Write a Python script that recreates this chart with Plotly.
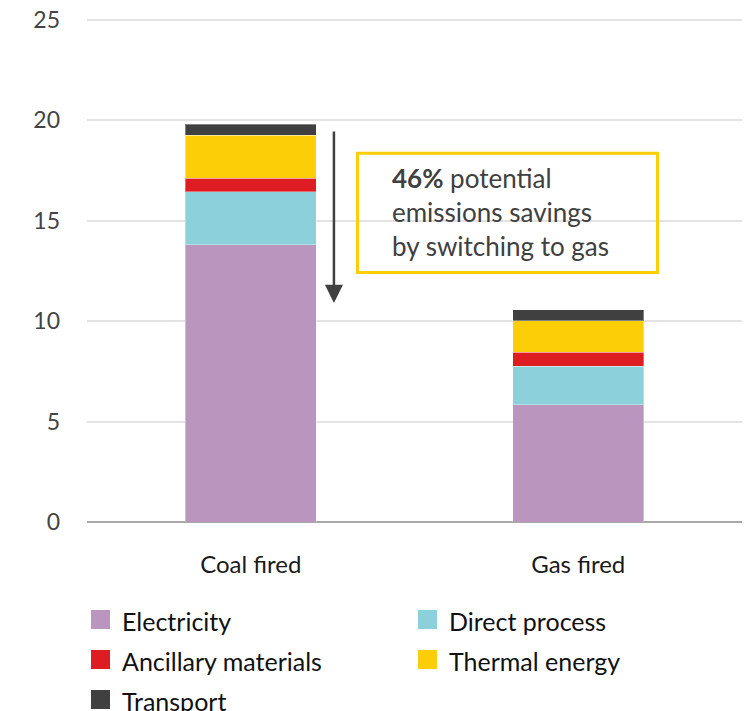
import plotly.graph_objects as go

# data
categories = ['Coal fired', 'Gas fired']
electricity = [13.81, 5.84]
direct_process = [2.64, 1.91]
ancillary = [0.68, 0.70]
thermal = [2.13, 1.57]
transport = [0.56, 0.54]

series = [
  ('Electricity', electricity, '#BA95BE'),
  ('Direct process', direct_process, '#8BD0DB'),
  ('Ancillary materials', ancillary, '#DD1D21'),
  ('Thermal energy', thermal, '#FBCE07'),
  ('Transport', transport, '#404040'),
]

FONT = 'Lato'
W, H = 746, 711
L, R, T, B = 87, 4, 18, 711 - 522

def px_x(p):
  # page pixel -> paper x
  return (p - L) / (W - L - R)

def px_y(p):
  return (H - B - p) / (H - T - B)

fig = go.Figure()
for name, vals, col in series:
  fig.add_trace(go.Bar(x=categories, y=vals, name=name, marker_color=col,
                       marker_line=dict(width=1, color='rgba(255,255,255,0.35)'),
                       width=0.4, showlegend=False))

fig.update_layout(
  barmode='stack', width=W, height=H,
  margin=dict(l=L, r=R, t=T, b=B),
  paper_bgcolor='white', plot_bgcolor='white',
  font=dict(family=FONT, size=24, color='#404040'),
)
# range top a bit above 25 so the 25 gridline isn't clipped off
fig.update_yaxes(range=[0, 25.1], tickvals=[0, 5, 10, 15, 20, 25], showgrid=True,
                 gridcolor='#E3E3E3', gridwidth=1.5,
                 zeroline=True, zerolinecolor='#A8A8A8', zerolinewidth=2,
                 showline=False, ticks='', ticklabelstandoff=26,
                 tickfont=dict(family=FONT, size=23, color='#444444'))
fig.update_xaxes(range=[-0.5, 1.5], showline=False, ticks='', ticklabelstandoff=26,
                 tickfont=dict(family=FONT, size=24, color='#1a1a1a'))

# arrow
fig.add_annotation(x=0.254, y=10.91, ax=0.254, ay=19.52, xref='x', yref='y', axref='x', ayref='y',
                   text='', showarrow=True, arrowhead=2, arrowsize=1.45, arrowwidth=2.5,
                   arrowcolor='#404040')

# savings box
fig.add_shape(type='rect', xref='x', yref='y', x0=0.326, x1=1.242, y0=12.43, y1=18.37,
              line=dict(color='#FBCE07', width=3), fillcolor='rgba(0,0,0,0)')
fig.add_annotation(x=0.425, y=15.44, xref='x', yref='y', xanchor='left', yanchor='middle',
                   align='left', showarrow=False,
                   text='<b>46%</b> potential<br>emissions savings<br>by switching to gas',
                   font=dict(family=FONT, size=26, color='#404040'))

# legend, two columns
leg_cols = [91, 418]
leg_rows = [619.5, 659.5, 699.5]
for i, (name, vals, col) in enumerate(series):
  cx = leg_cols[i % 2]
  cy = leg_rows[i // 2]
  fig.add_shape(type='rect', xref='paper', yref='paper',
                x0=px_x(cx), x1=px_x(cx + 19), y0=px_y(cy - 9.5), y1=px_y(cy + 9.5),
                fillcolor=col, line_width=0)
  fig.add_annotation(x=px_x(cx + 29), y=px_y(cy + 1), xref='paper', yref='paper',
                     xanchor='left', yanchor='middle', showarrow=False, text=name,
                     font=dict(family=FONT, size=25, color='#111111'))

# page has a default body margin, drop it so the figure sits at 0,0
fig.write_html('out.html', config={'displayModeBar': False},
               post_script="document.body.style.margin='0';")
